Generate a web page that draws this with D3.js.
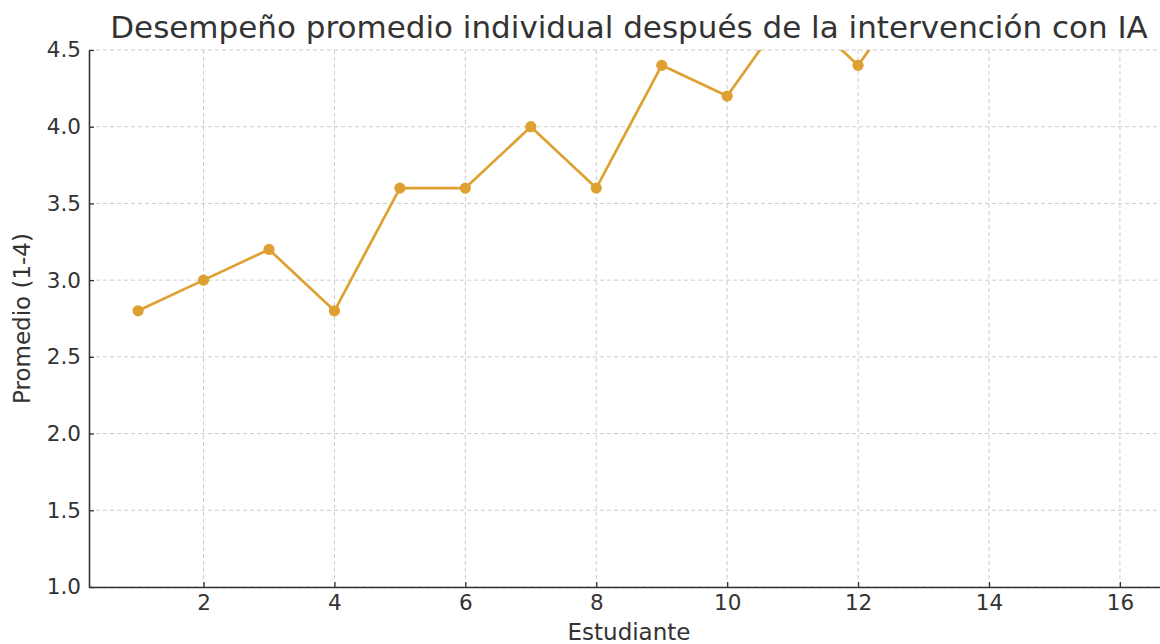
<!DOCTYPE html>
<html>
<head>
<meta charset="utf-8">
<script src="https://cdn.jsdelivr.net/npm/d3@7"></script>
<style>
  html, body { margin: 0; padding: 0; background: #ffffff; }
  svg { display: block; font-family: "DejaVu Sans", sans-serif; }
</style>
</head>
<body>
<svg id="chart" width="1160" height="644"></svg>
<script>
const students = [1, 2, 3, 4, 5, 6, 7, 8, 9, 10, 11, 12, 13, 14, 15, 16];
const averages = [2.8, 3.0, 3.2, 2.8, 3.6, 3.6, 4.0, 3.6, 4.4, 4.2, 4.8, 4.4, 5.0, 4.8, 5.0, 5.2];
const xTicks = [2, 4, 6, 8, 10, 12, 14, 16];
const yTicks = [1.0, 1.5, 2.0, 2.5, 3.0, 3.5, 4.0, 4.5];
const titleText = "Desempeño promedio individual después de la intervención con IA";
const xLabel = "Estudiante";
const yLabel = "Promedio (1-4)";

const svg = d3.select("#chart");
const margin = { left: 89, right: 1169, top: 50, bottom: 587 };
const color = "#dea131";

const x = d3.scaleLinear().domain([0.25, 16.75]).range([margin.left, margin.right]);
const y = d3.scaleLinear().domain([1.0, 4.5]).range([margin.bottom, margin.top]);

// grid
const grid = svg.append("g");
grid.selectAll("line.vx").data(xTicks).enter().append("line")
  .attr("x1", d => x(d)).attr("x2", d => x(d))
  .attr("y1", margin.top).attr("y2", margin.bottom)
  .attr("stroke", "#cccccc").attr("stroke-width", 1).attr("stroke-dasharray", "4,3");
grid.selectAll("line.hy").data(yTicks).enter().append("line")
  .attr("x1", margin.left).attr("x2", margin.right)
  .attr("y1", d => y(d)).attr("y2", d => y(d))
  .attr("stroke", "#cccccc").attr("stroke-width", 1).attr("stroke-dasharray", "4,3");

// clip
svg.append("defs").append("clipPath").attr("id", "clip")
  .append("rect").attr("x", margin.left).attr("y", margin.top)
  .attr("width", margin.right - margin.left).attr("height", margin.bottom - margin.top);

const data = students.map((s, i) => ({ s, v: averages[i] }));
const plot = svg.append("g").attr("clip-path", "url(#clip)");
plot.append("path").datum(data)
  .attr("fill", "none").attr("stroke", color).attr("stroke-width", 2.7)
  .attr("stroke-linejoin", "round")
  .attr("d", d3.line().x(d => x(d.s)).y(d => y(d.v)));
plot.selectAll("circle").data(data).enter().append("circle")
  .attr("cx", d => x(d.s)).attr("cy", d => y(d.v)).attr("r", 5.6).attr("fill", color);

// axes
const xAxis = svg.append("g").attr("transform", `translate(0,${margin.bottom})`)
  .call(d3.axisBottom(x).tickValues(xTicks).tickFormat(d3.format("d")).tickSizeInner(-5).tickSizeOuter(0).tickPadding(8));
const yAxis = svg.append("g").attr("transform", `translate(${margin.left},0)`)
  .call(d3.axisLeft(y).tickValues(yTicks).tickFormat(d3.format(".1f")).tickSizeInner(-5).tickSizeOuter(0).tickPadding(8));
[xAxis, yAxis].forEach(a => {
  a.select(".domain").attr("stroke", "#333333").attr("stroke-width", 1.6);
  a.selectAll(".tick line").attr("stroke", "#333333").attr("stroke-width", 1.3);
  a.selectAll(".tick text").attr("fill", "#333333").attr("font-size", 21.5)
    .attr("font-family", "DejaVu Sans, sans-serif");
});

// labels
svg.append("text").attr("x", (margin.left + margin.right) / 2).attr("y", 37.5)
  .attr("text-anchor", "middle").attr("font-size", 31).attr("fill", "#333333")
  .text(titleText);
svg.append("text").attr("x", (margin.left + margin.right) / 2).attr("y", 640)
  .attr("text-anchor", "middle").attr("font-size", 23).attr("fill", "#333333")
  .text(xLabel);
svg.append("text").attr("transform", `translate(30,${(margin.top + margin.bottom) / 2}) rotate(-90)`)
  .attr("text-anchor", "middle").attr("font-size", 23).attr("fill", "#333333")
  .text(yLabel);
</script>
</body>
</html>
